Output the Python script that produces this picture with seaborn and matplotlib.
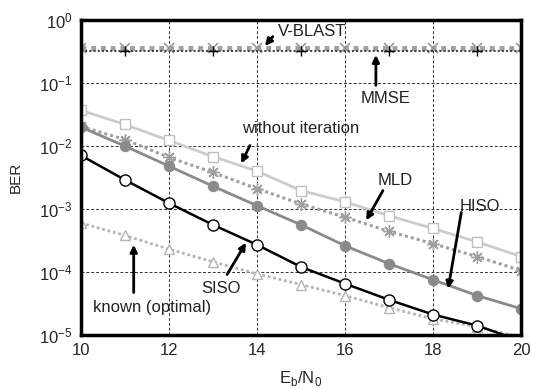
import numpy as np
import pandas as pd
import matplotlib
matplotlib.use("Agg")
import matplotlib.pyplot as plt
import seaborn as sns

# -----------------------------
# Datos
# -----------------------------
ebn0 = [10, 11, 12, 13, 14, 15, 16, 17, 18, 19, 20]

ber_vblast = [0.36, 0.36, 0.36, 0.36, 0.36, 0.36, 0.36, 0.36, 0.36, 0.36, 0.36]
ber_mmse = [0.32, 0.32, 0.32, 0.32, 0.32, 0.32, 0.32, 0.32, 0.32, 0.32, 0.32]
ber_without = [0.037, 0.022, 0.0123, 0.0068, 0.004, 0.00196, 0.0013, 0.00078, 0.00049, 0.0003, 0.000175]
ber_mld = [0.0205, 0.0127, 0.0066, 0.0038, 0.0021, 0.0012, 0.00074, 0.00044, 0.00028, 0.000175, 0.000105]
ber_hiso = [0.02, 0.01, 0.0048, 0.0023, 0.00113, 0.00056, 0.00026, 0.000135, 7.5e-5, 4.2e-5, 2.6e-5]
ber_siso = [0.0071, 0.0029, 0.00124, 0.00056, 0.00027, 0.00012, 6.5e-5, 3.6e-5, 2.1e-5, 1.4e-5, 8e-6]
ber_known = [0.0006, 0.00038, 0.00023, 0.000145, 9.3e-5, 6.3e-5, 4.2e-5, 2.7e-5, 1.8e-5, 1.35e-5, 9e-6]

# -----------------------------
# Configuración general
# -----------------------------
sns.set_style("white")
plt.rcParams["font.family"] = ["Liberation Sans", "DejaVu Sans"]

fig = plt.figure(figsize=(5.39, 3.88), dpi=100)
ax = fig.add_axes([0.150, 0.137, 0.817, 0.811])

star = (8, 2, 0)
dots = (0, (1, 1))

# líneas superiores
sns.lineplot(x=ebn0, y=ber_vblast, ax=ax, color="#a0a0a0", linestyle=dots, linewidth=3.5,
             marker="x", markersize=7, markeredgewidth=1.2, markeredgecolor="#999999")
sns.lineplot(x=ebn0, y=ber_mmse, ax=ax, color="#444444", linestyle=dots, linewidth=1.5,
             marker="+", markersize=7, markeredgewidth=1, markeredgecolor="black",
             markevery=(1, 2))

# curvas
sns.lineplot(x=ebn0, y=ber_without, ax=ax, color="#cccccc", linewidth=2,
             marker="s", markersize=7, markerfacecolor="white",
             markeredgecolor="#c0c0c0", markeredgewidth=1)
sns.lineplot(x=ebn0, y=ber_mld, ax=ax, color="#a0a0a0", linestyle=dots, linewidth=2.2,
             marker=star, markersize=9, markeredgecolor="#a0a0a0", markeredgewidth=1)
sns.lineplot(x=ebn0, y=ber_hiso, ax=ax, color="#8a8a8a", linewidth=2,
             marker="o", markersize=7.5, markerfacecolor="#8a8a8a",
             markeredgecolor="#8a8a8a")
sns.lineplot(x=ebn0, y=ber_known, ax=ax, color="#b4b4b4", linestyle=dots, linewidth=2,
             marker="^", markersize=7, markerfacecolor="white",
             markeredgecolor="#b4b4b4", markeredgewidth=1)
sns.lineplot(x=ebn0, y=ber_siso, ax=ax, color="black", linewidth=1.8,
             marker="o", markersize=8, markerfacecolor="white",
             markeredgecolor="black", markeredgewidth=1)

ax.set_yscale("log")
ax.set_xlim(10, 20)
ax.set_ylim(1e-5, 1)
ax.set_xticks([10, 12, 14, 16, 18, 20])
ax.set_yticks([1e-5, 1e-4, 1e-3, 1e-2, 1e-1, 1])
ax.minorticks_off()
ax.tick_params(axis="both", labelsize=12, length=0, pad=6)
ax.grid(True, which="major", color="#333333", linestyle=(0, (3, 2)), linewidth=0.7)
for s in ax.spines.values():
    s.set_linewidth(2.5)
    s.set_color("black")

ax.set_xlabel(r"E$_\mathregular{b}$/N$_\mathregular{0}$", fontsize=12, labelpad=8)
ax.set_ylabel("BER", fontsize=11, labelpad=12)

# -----------------------------
# Anotaciones
# -----------------------------
arrow = dict(arrowstyle="-|>", color="black", lw=2, mutation_scale=10, shrinkA=0, shrinkB=0)
txt = dict(fontsize=12, ha="center", va="center", color="#222222")

ax.text(15.25, 0.66, "V-BLAST", **txt)
ax.annotate("", xy=(14.18, 0.39), xytext=(14.36, 0.55), arrowprops=arrow)

ax.text(16.93, 0.057, "MMSE", **txt)
ax.annotate("", xy=(16.70, 0.28), xytext=(16.70, 0.092), arrowprops=arrow)

ax.text(15.0, 0.019, "without iteration", **txt)
ax.annotate("", xy=(13.64, 0.0053), xytext=(13.84, 0.0102), arrowprops=arrow)

ax.text(17.14, 0.0028, "MLD", **txt)
ax.annotate("", xy=(16.48, 0.00066), xytext=(16.86, 0.00196), arrowprops=arrow)

ax.text(19.07, 0.0011, "HISO", **txt)
ax.annotate("", xy=(18.34, 5.4e-5), xytext=(18.64, 0.00088), arrowprops=arrow)

ax.text(13.18, 5.4e-5, "SISO", **txt)
ax.annotate("", xy=(13.75, 0.00029), xytext=(13.32, 9.1e-5), arrowprops=arrow)

ax.text(11.61, 2.7e-5, "known (optimal)", **txt)
ax.annotate("", xy=(11.2, 0.00027), xytext=(11.2, 4.7e-5), arrowprops=arrow)

plt.savefig("out.png", dpi=100)
